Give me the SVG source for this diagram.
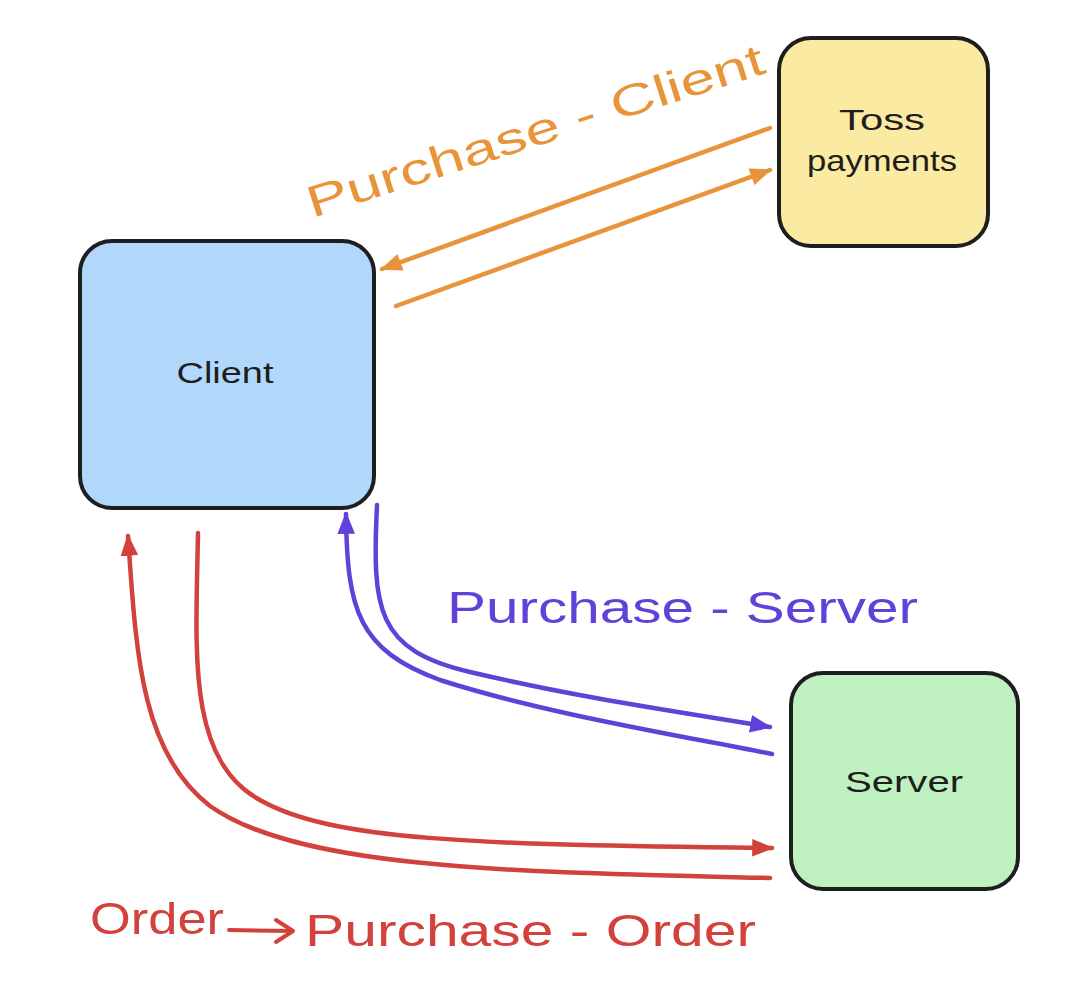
<svg xmlns="http://www.w3.org/2000/svg" width="1076" height="1002" viewBox="0 0 1076 1002">
<style>
.box{stroke:#1e1e1e;stroke-width:4;}
.lbl{font-family:"Liberation Sans",Arial,sans-serif;fill:#1e1e1e;font-size:30px;text-anchor:middle;}
.edge{fill:none;stroke-width:4.5;stroke-linecap:round;}
.elbl{font-family:"Liberation Sans",Arial,sans-serif;font-size:44px;}
</style>
<defs>
<marker id="aO" viewBox="0 0 10 8" refX="9" refY="4" markerWidth="22" markerHeight="18" orient="auto" markerUnits="userSpaceOnUse"><path d="M0,0 L10,4 L0,8 z" fill="#e8943a"/></marker>
<marker id="aP" viewBox="0 0 10 8" refX="9" refY="4" markerWidth="22" markerHeight="18" orient="auto" markerUnits="userSpaceOnUse"><path d="M0,0 L10,4 L0,8 z" fill="#6042d8"/></marker>
<marker id="aR" viewBox="0 0 10 8" refX="9" refY="4" markerWidth="22" markerHeight="18" orient="auto" markerUnits="userSpaceOnUse"><path d="M0,0 L10,4 L0,8 z" fill="#d2413b"/></marker>
</defs>
<rect width="1076" height="1002" fill="#ffffff"/>

<g id="connectors">
<path class="edge" stroke="#e8943a" stroke-width="5" d="M770,128 L382,269" marker-end="url(#aO)"/>
<path class="edge" stroke="#e8943a" stroke-width="5" d="M396,306 L770,170" marker-end="url(#aO)"/>
<path class="edge" stroke="#6042d8" d="M377,505 C372,610 376,650 470,672 C580,698 680,712 770,727" marker-end="url(#aP)"/>
<path class="edge" stroke="#6042d8" d="M772,754 C660,732 540,712 440,680 C358,650 347,610 346,514" marker-end="url(#aP)"/>
<path class="edge" stroke="#d2413b" stroke-width="4" d="M198,533 C196,650 186,760 260,800 C330,840 470,845 772,848" marker-end="url(#aR)"/>
<path class="edge" stroke="#d2413b" stroke-width="4" d="M770,878 C520,872 300,870 210,806 C140,752 136,650 128,536" marker-end="url(#aR)"/>
<text class="elbl" fill="#e8943a" x="535" y="146" text-anchor="middle" textLength="478" lengthAdjust="spacingAndGlyphs" transform="rotate(-17.7 535 130)">Purchase - Client</text>
<text class="elbl" fill="#6042d8" x="447" y="623" textLength="471" lengthAdjust="spacingAndGlyphs">Purchase - Server</text>
<text class="elbl" fill="#d2413b" x="90" y="934" font-size="42" textLength="134" lengthAdjust="spacingAndGlyphs">Order</text>
<path d="M229,930 L292,931" stroke="#d2413b" stroke-width="4" fill="none" stroke-linecap="round"/>
<path d="M276,920 L293,931 L276,942" stroke="#d2413b" stroke-width="4" fill="none" stroke-linecap="round" stroke-linejoin="round"/>
<text class="elbl" fill="#d2413b" x="305" y="946" textLength="451" lengthAdjust="spacingAndGlyphs">Purchase - Order</text>
</g>

<g id="client">
<rect class="box" x="80" y="241" width="294" height="267" rx="32" fill="#b1d8fb"/>
<text class="lbl" x="225" y="383" textLength="97" lengthAdjust="spacingAndGlyphs">Client</text>
</g>

<g id="toss">
<rect class="box" x="779" y="38" width="209" height="208" rx="32" fill="#fbeaa2"/>
<text class="lbl" x="882" y="130" textLength="86" lengthAdjust="spacingAndGlyphs">Toss</text>
<text class="lbl" x="882" y="171" textLength="150" lengthAdjust="spacingAndGlyphs">payments</text>
</g>

<g id="server">
<rect class="box" x="791" y="673" width="227" height="216" rx="32" fill="#bff0bf"/>
<text class="lbl" x="904" y="792" textLength="118" lengthAdjust="spacingAndGlyphs">Server</text>
</g>
</svg>
